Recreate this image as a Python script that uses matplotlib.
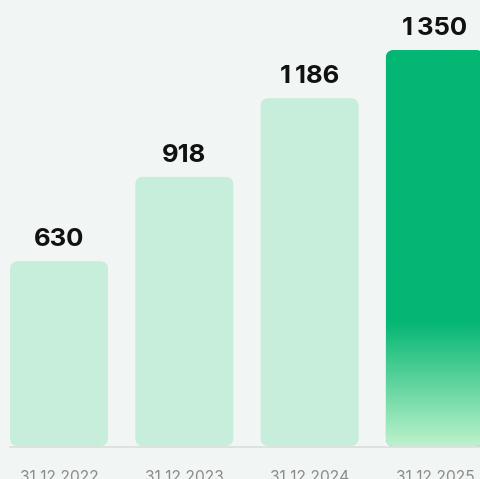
import numpy as np
import matplotlib.pyplot as plt
from matplotlib.patches import FancyBboxPatch
from matplotlib.colors import LinearSegmentedColormap

# значения на конец каждого года
dates = ["31.12.2022", "31.12.2023", "31.12.2024", "31.12.2025"]
values = [630, 918, 1186, 1350]
labels = ["630", "918", "1\u2009186", "1\u2009350"]

bg = "#f1f5f4"
light = "#c6eeda"
dark = "#04b673"

plt.rcParams["font.family"] = ["Inter", "DejaVu Sans"]

fig = plt.figure(figsize=(4.81, 4.79), dpi=100, facecolor=bg)
ax = fig.add_axes([0, 33 / 479, 1, 446 / 479])
ax.set_facecolor(bg)

x = np.arange(len(values))
width = 0.782
ax.set_xlim(-0.471, 3.368)
ax.set_ylim(0, 1521)

# скругление углов ~8 px
pad_x = 0.064
aspect = (8 / 0.2932) / pad_x

patches = []
for i, v in enumerate(values):
    col = dark if i == len(values) - 1 else light
    p = FancyBboxPatch((x[i] - width / 2, 0), width, v,
                       boxstyle=f"round,pad=0,rounding_size={pad_x}",
                       mutation_aspect=aspect, fc=col, ec="none", zorder=2)
    ax.add_patch(p)
    patches.append(p)
    ax.annotate(labels[i], (x[i], v), xytext=(0, 11), textcoords="offset points",
                ha="center", va="baseline", fontsize=18.5, fontweight="bold",
                color="#111111")

# градиент у последнего столбца
grad = LinearSegmentedColormap.from_list("g", ["#bcf2cb", "#5fd49e", dark])
last = len(values) - 1
fade_top = 425
yy = np.linspace(0, values[last], 300)
t = np.clip(yy / fade_top, 0, 1)
img = ax.imshow(t[:, None], cmap=grad, vmin=0, vmax=1, origin="lower", aspect="auto",
                extent=(x[last] - width / 2, x[last] + width / 2, 0, values[last]),
                zorder=3)
img.set_clip_path(patches[last])

# линия основания
ax.axhline(-4, xmin=0.021, xmax=1, color="#dadddc", lw=1.2, clip_on=False, zorder=1)

for s in ax.spines.values():
    s.set_visible(False)
ax.set_yticks([])
ax.set_xticks(x)
ax.set_xticklabels(dates, fontsize=11.2, color="#8a8a8a")
ax.tick_params(axis="x", length=0, pad=17)

fig.savefig("out.png", dpi=100, facecolor=bg)
